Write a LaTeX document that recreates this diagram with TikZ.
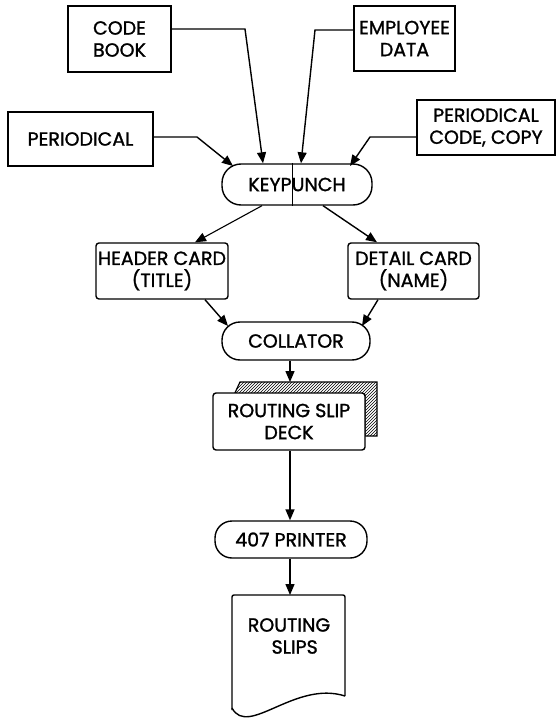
\documentclass[tikz,border=0pt]{standalone}
\usepackage{fontspec}
\setmainfont{Poppins}[FakeBold=1.3]
\usetikzlibrary{arrows.meta,patterns,calc}
\begin{document}
\begin{tikzpicture}[x=1pt,y=-1pt,
  every node/.style={font=\fontsize{19}{22}\selectfont, align=center, inner sep=0pt},
  box/.style={draw, line width=1.6pt, minimum width=#1},
  card/.style={draw, line width=1.4pt, rounded corners=3pt},
  term/.style={draw, line width=1.4pt, rounded corners=18pt},
  arr/.style={line width=1.4pt, -{Triangle[length=11pt,width=9pt]}},
  conn/.style={line width=1.4pt}
]
\useasboundingbox (0,0) rectangle (556,722);

% top input boxes
\node[box=103pt, minimum height=66pt] (cb) at (119.5,39) {CODE\\BOOK};
\node[box=101pt, minimum height=65pt] (emp) at (404.5,38.5) {EMPLOYEE\\DATA};
\node[box=145pt, minimum height=54pt] (per) at (80.5,139) {PERIODICAL};
\node[box=138pt, minimum height=55pt] (pcc) at (486,127.5) {PERIODICAL\\CODE, COPY};

% keypunch
\node[term, minimum width=150pt, minimum height=41pt, rounded corners=19pt] (kp) at (297,184.5) {KEYPUNCH};
\draw[line width=0.8pt] (kp.north -| 292,0) -- (kp.south -| 292,0);

% cards
\node[card, minimum width=132pt, minimum height=56pt] (hdr) at (162,271) {HEADER CARD\\(TITLE)};
\node[card, minimum width=131pt, minimum height=56pt] (det) at (413.5,271) {DETAIL CARD\\(NAME)};

% collator
\node[term, minimum width=148pt, minimum height=38pt] (col) at (296,341) {COLLATOR};

% deck (back card, hatched)
\draw[line width=1.2pt, pattern=north east lines] (234,395) -- (240,382) -- (377,382) -- (377,436) -- (365,436) -- (365,395) -- cycle;
\node[card, fill=white, minimum width=152pt, minimum height=57pt] (deck) at (289,421.5) {ROUTING SLIP\\DECK};
\coordinate (decktop) at (290,382);

% printer
\node[term, minimum width=152pt, minimum height=37pt, rounded corners=17pt] (prn) at (291,539.5) {407 PRINTER};

% document: routing slips
\coordinate (slipstop) at (290,595);
\draw[line width=1.4pt, rounded corners=2pt] (232,710) -- (232,595) -- (345,595) -- (345,696);
\draw[line width=1.4pt] (232,708) .. controls (248,738) and (295,680) .. (345,696);
\node (slips) at (289,636) {ROUTING\\\hspace*{0.6em}SLIPS};

% connectors into keypunch
\draw[arr] (cb.east |- 0,29) -- (245,29) -- (kp.north -| 263,0);
\draw[arr] (emp.west |- 0,30) -- (315,30) -- (kp.north -| 301,0);
\draw[arr] (per.east |- 0,137) -- (197,137) -- (233,166);
\draw[arr] (pcc.west |- 0,137) -- (370,137) -- (350,166);

% keypunch to cards
\draw[arr, line width=1.1pt] (kp.south -| 262,0) -- (hdr.north -| 195,0);
\draw[arr] (kp.south -| 323,0) -- (det.north -| 377,0);

% cards to collator
\draw[arr] (hdr.south -| 205,0) -- (228,326);
\draw[arr] (det.south -| 378,0) -- (362,326);

% vertical chain
\draw[arr] (col.south -| 290,0) -- (decktop);
\draw[arr] (deck.south -| 290,0) -- (prn.north -| 290,0);
\draw[arr] (prn.south -| 290,0) -- (slipstop);
\end{tikzpicture}
\end{document}
